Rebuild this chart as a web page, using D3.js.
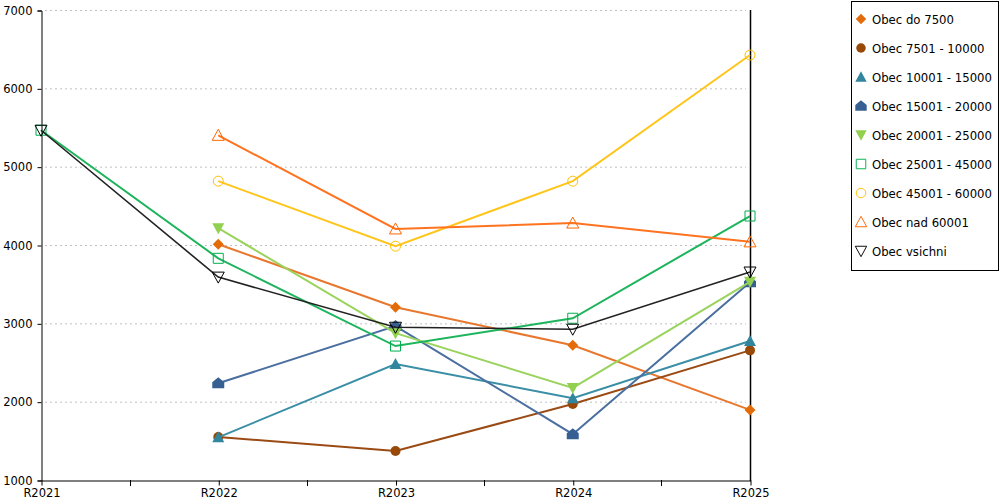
<!DOCTYPE html>
<html>
<head>
<meta charset="utf-8">
<script src="https://cdn.jsdelivr.net/npm/d3@7"></script>
<style>
  body { margin: 0; background: #fff; }
  text { font-family: "DejaVu Sans", Verdana, sans-serif; }
</style>
</head>
<body>
<script>
var years = ['R2021', 'R2022', 'R2023', 'R2024', 'R2025'];
var yTicks = [1000, 2000, 3000, 4000, 5000, 6000, 7000];

var names = ['Obec do 7500', 'Obec 7501 - 10000', 'Obec 10001 - 15000', 'Obec 15001 - 20000',
  'Obec 20001 - 25000', 'Obec 25001 - 45000', 'Obec 45001 - 60000', 'Obec nad 60001', 'Obec vsichni'];

// null = no value for that year
var do7500 = [null, 4010, 3205, 2720, 1895];
var o7501 = [null, 1550, 1370, 1970, 2655];
var o10001 = [null, 1545, 2480, 2045, 2775];
var o15001 = [null, 2235, 2965, 1585, 3525];
var o20001 = [null, 4215, 2875, 2175, 3530];
var o25001 = [5465, 3830, 2710, 3065, 4370];
var o45001 = [null, 4815, 3985, 4815, 6425];
var nad60001 = [null, 5400, 4205, 4280, 4040];
var vsichni = [5465, 3590, 2950, 2925, 3655];

var seriesValues = [do7500, o7501, o10001, o15001, o20001, o25001, o45001, nad60001, vsichni];
var lineColors = ['#e8772e', '#9a4a13', '#3a8ea5', '#4a6fa0', '#9ad35c', '#1db45c', '#ffc51a', '#ff7320', '#222222'];
var markColors = ['#e36c09', '#984807', '#31859c', '#366092', '#92d050', '#00b050', '#ffc000', '#ff6600', '#000000'];
var shapes = ['diamond', 'circle', 'triangle', 'house', 'down', 'square', 'ocircle', 'otriangle', 'odown'];

var svg = d3.select('body').append('svg').attr('width', 1000).attr('height', 500);

var x = d3.scalePoint().domain(years).range([41, 750]);
var y = d3.scaleLinear().domain([1000, 7000]).range([480, 10]);

// grid
svg.append('g').selectAll('line')
  .data(yTicks.filter(function(d) { return d > 1000; }))
  .enter().append('line')
  .attr('x1', 45).attr('x2', 746)
  .attr('y1', function(d) { return y(d) + 0.5; })
  .attr('y2', function(d) { return y(d) + 0.5; })
  .attr('stroke', '#c0c0c0')
  .attr('stroke-dasharray', '2,3');

// y axis
var yAxis = svg.append('g').attr('transform', 'translate(41.5,0.5)')
  .call(d3.axisLeft(y).tickValues(yTicks).tickSize(4).tickPadding(5).tickFormat(d3.format('d')));
yAxis.select('.domain').attr('stroke', '#000');
yAxis.selectAll('text').attr('font-size', 11.5).attr('fill', '#000');

// x axis
var xAxis = svg.append('g').attr('transform', 'translate(0.5,480.5)')
  .call(d3.axisBottom(x).tickSize(5).tickPadding(3).tickSizeOuter(0));
xAxis.select('.domain').attr('stroke', '#000');
xAxis.selectAll('text').attr('font-size', 11.5).attr('fill', '#000');
var mids = years.slice(1).map(function(d, i) { return (x(years[i]) + x(d)) / 2; });
svg.append('g').selectAll('line').data(mids).enter().append('line')
  .attr('x1', function(d) { return Math.round(d) + 0.5; })
  .attr('x2', function(d) { return Math.round(d) + 0.5; })
  .attr('y1', 480).attr('y2', 486).attr('stroke', '#000');

// right line
svg.append('line').attr('x1', 750.5).attr('x2', 750.5).attr('y1', 10).attr('y2', 481)
  .attr('stroke', '#000').attr('stroke-width', 1.5);

function markerPath(shape) {
  switch (shape) {
    case 'diamond': return 'M0,-5.5L5.5,0L0,5.5L-5.5,0Z';
    case 'circle': case 'ocircle': return 'M5,0A5,5 0 1,1 -5,0A5,5 0 1,1 5,0Z';
    case 'triangle': case 'otriangle': return 'M0,-6L6,5L-6,5Z';
    case 'down': case 'odown': return 'M-6,-5L6,-5L0,6Z';
    case 'house': return 'M0,-6L6,-1L6,5L-6,5L-6,-1Z';
    case 'square': return 'M-5,-5L5,-5L5,5L-5,5Z';
  }
}
function isOpen(shape) { return shape === 'square' || shape.charAt(0) === 'o'; }

var line = d3.line()
  .defined(function(d) { return d.v !== null; })
  .x(function(d) { return x(d.year); })
  .y(function(d) { return y(d.v); });

seriesValues.forEach(function(vals, s) {
  var pts = vals.map(function(v, i) { return { year: years[i], v: v }; });
  var g = svg.append('g');
  g.append('path').datum(pts)
    .attr('d', line)
    .attr('fill', 'none')
    .attr('stroke', lineColors[s])
    .attr('stroke-width', s === 8 ? 1.6 : 2);
  g.selectAll('path.m').data(pts.filter(function(d) { return d.v !== null; }))
    .enter().append('path').attr('class', 'm')
    .attr('transform', function(d) { return 'translate(' + x(d.year) + ',' + y(d.v) + ')'; })
    .attr('d', markerPath(shapes[s]))
    .attr('fill', isOpen(shapes[s]) ? 'none' : markColors[s])
    .attr('stroke', markColors[s])
    .attr('stroke-width', isOpen(shapes[s]) ? 1 : 0);
});

// legend
var leg = svg.append('g');
leg.append('rect').attr('x', 851.5).attr('y', 1.5).attr('width', 147).attr('height', 269)
  .attr('fill', '#fff').attr('stroke', '#000');
var items = leg.selectAll('g.it').data(names).enter().append('g').attr('class', 'it')
  .attr('transform', function(d, i) { return 'translate(861,' + (19 + i * 29) + ')'; });
items.append('path')
  .attr('d', function(d, i) { return markerPath(shapes[i]); })
  .attr('transform', 'scale(0.95)')
  .attr('fill', function(d, i) { return isOpen(shapes[i]) ? 'none' : markColors[i]; })
  .attr('stroke', function(d, i) { return markColors[i]; })
  .attr('stroke-width', function(d, i) { return isOpen(shapes[i]) ? 1 : 0; });
items.append('text').attr('x', 11).attr('y', 4.5).attr('font-size', 11.7).attr('fill', '#000')
  .text(function(d) { return d; });
</script>
</body>
</html>
